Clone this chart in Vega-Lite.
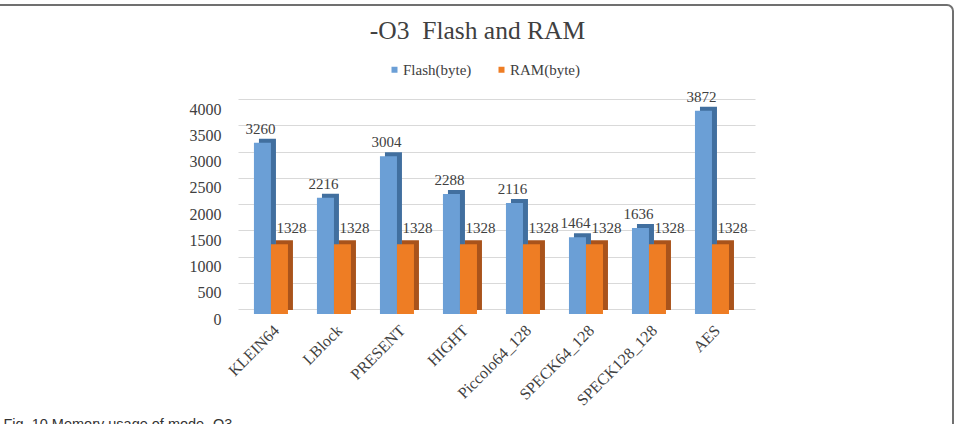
{
  "$schema": "https://vega.github.io/schema/vega-lite/v6.json",
  "autosize": {"type": "none"},
  "width": 963,
  "height": 430,
  "padding": {"left": -10, "top": 5, "right": 5, "bottom": -11},
  "background": "white",
  "config": {
    "view": {"stroke": "#707070", "strokeWidth": 2, "cornerRadius": 6},
    "font": "Liberation Serif"
  },
  "title": {
    "text": "-O3\u00a0\u00a0Flash and RAM",
    "font": "Liberation Serif",
    "fontSize": 25.5,
    "fontWeight": "normal",
    "color": "#404040",
    "anchor": "middle",
    "frame": "group",
    "offset": 0,
    "dy": 51,
    "dx": 6,
    "baseline": "middle"
  },
  "data": {
    "values": [
      {"cipher": "KLEIN64", "series": "Flash(byte)", "value": 3260},
      {"cipher": "KLEIN64", "series": "RAM(byte)", "value": 1328},
      {"cipher": "LBlock", "series": "Flash(byte)", "value": 2216},
      {"cipher": "LBlock", "series": "RAM(byte)", "value": 1328},
      {"cipher": "PRESENT", "series": "Flash(byte)", "value": 3004},
      {"cipher": "PRESENT", "series": "RAM(byte)", "value": 1328},
      {"cipher": "HIGHT", "series": "Flash(byte)", "value": 2288},
      {"cipher": "HIGHT", "series": "RAM(byte)", "value": 1328},
      {"cipher": "Piccolo64_128", "series": "Flash(byte)", "value": 2116},
      {"cipher": "Piccolo64_128", "series": "RAM(byte)", "value": 1328},
      {"cipher": "SPECK64_128", "series": "Flash(byte)", "value": 1464},
      {"cipher": "SPECK64_128", "series": "RAM(byte)", "value": 1328},
      {"cipher": "SPECK128_128", "series": "Flash(byte)", "value": 1636},
      {"cipher": "SPECK128_128", "series": "RAM(byte)", "value": 1328},
      {"cipher": "AES", "series": "Flash(byte)", "value": 3872},
      {"cipher": "AES", "series": "RAM(byte)", "value": 1328}
    ]
  },
  "encoding": {
    "x": {
      "field": "cipher",
      "type": "nominal",
      "sort": null,
      "scale": {"range": [248, 765], "paddingInner": 0.46, "paddingOuter": 0.333, "align": 0.38},
      "axis": {
        "title": "Fig. 10 Memory usage of mode -O3",
        "titleFont": "Liberation Sans",
        "titleFontSize": 14.5,
        "titleFontWeight": "normal",
        "titleColor": "#333333",
        "titleX": 13,
        "titleY": 103,
        "titleAlign": "left",
        "titleBaseline": "top",
        "titleAnchor": "start",
        "offset": -121,
        "domain": false,
        "ticks": false,
        "grid": false,
        "labelAngle": -45,
        "labelFont": "Liberation Serif",
        "labelFontSize": 16,
        "labelColor": "#404040",
        "labelPadding": 8
      }
    },
    "y": {
      "field": "value",
      "type": "quantitative",
      "scale": {"domain": [0, 4000], "range": [309, 99], "nice": false, "zero": true},
      "axis": {
        "title": null,
        "offset": -238,
        "domain": false,
        "ticks": false,
        "values": [0, 500, 1000, 1500, 2000, 2500, 3000, 3500, 4000],
        "format": "d",
        "labelFont": "Liberation Serif",
        "labelFontSize": 16,
        "labelColor": "#404040",
        "labelPadding": 7,
        "gridColor": "#d9d9d9",
        "gridWidth": 1,
        "tickOffset": -5,
        "labelOffset": 10
      }
    }
  },
  "layer": [
    {
      "transform": [{"filter": "datum.series === 'Flash(byte)'"}],
      "mark": {"type": "bar", "width": 17, "xOffset": -3.5, "yOffset": -4, "color": "#416F9F"}
    },
    {
      "transform": [{"filter": "datum.series === 'RAM(byte)'"}],
      "mark": {"type": "bar", "width": 17, "xOffset": 13.5, "yOffset": -4, "color": "#A9531B"}
    },
    {
      "mark": {"type": "bar"},
      "encoding": {
        "xOffset": {"field": "series", "type": "nominal", "sort": null},
        "color": {
          "field": "series",
          "type": "nominal",
          "sort": null,
          "scale": {"range": ["#6B9FD6", "#EE7D24"]},
          "legend": {
            "title": null,
            "orient": "none",
            "legendX": 397,
            "legendY": 57,
            "direction": "horizontal",
            "symbolType": "square",
            "symbolSize": 36,
            "symbolStrokeWidth": 0,
            "labelOffset": 1,
            "labelFont": "Liberation Serif",
            "labelFontSize": 15,
            "labelColor": "#404040",
            "columnPadding": 22
          }
        }
      }
    },
    {
      "transform": [{"filter": "datum.series === 'Flash(byte)'"}],
      "mark": {"type": "text", "dx": -2, "dy": -14, "fontSize": 15, "color": "#404040", "font": "Liberation Serif"},
      "encoding": {
        "xOffset": {"field": "series", "type": "nominal", "sort": null},
        "text": {"field": "value", "type": "quantitative", "format": "d"}
      }
    },
    {
      "transform": [{"filter": "datum.series === 'RAM(byte)'"}],
      "mark": {"type": "text", "dx": 12, "dy": -16, "fontSize": 15, "color": "#404040", "font": "Liberation Serif"},
      "encoding": {
        "xOffset": {"field": "series", "type": "nominal", "sort": null},
        "text": {"field": "value", "type": "quantitative", "format": "d"}
      }
    }
  ]
}
